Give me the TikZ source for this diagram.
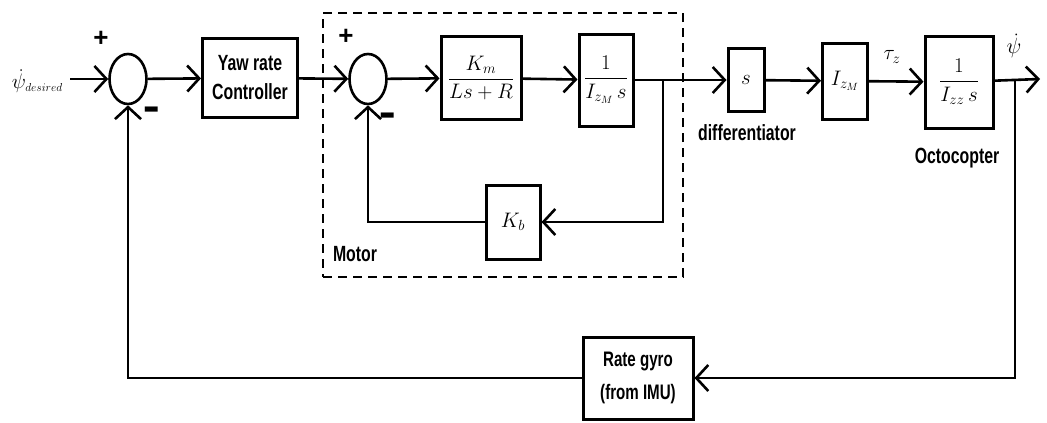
\RequirePackage{fix-cm}
\documentclass[tikz,border=0pt]{standalone}
\usepackage{amsmath}
\usepackage{graphicx}
\usepackage{fontspec}
\setmainfont{Liberation Sans}
\newfontfamily\narrowsf[FakeStretch=0.72]{Liberation Sans}
\usetikzlibrary{arrows.meta,shapes.geometric,positioning}

\begin{document}
\begin{tikzpicture}[
        x=1pt, y=-1pt,
        >={Straight Barb[length=12pt,width=26pt]},
        line width=2.6pt,
        block/.style={rectangle, draw, line width=3pt, inner sep=0pt, align=center, font=\fontsize{21}{23}\selectfont},
        summer/.style={ellipse, draw, minimum width=37pt, minimum height=50pt, inner sep=0pt},
        lbl/.style={font=\narrowsf\bfseries\fontsize{22}{29}\selectfont, inner sep=0pt, align=center},
        sign/.style={font=\bfseries\fontsize{26}{26}\selectfont, inner sep=0pt},
        signal/.style={font=\fontsize{21}{23}\selectfont, inner sep=0pt},
        frame/.style={draw, dashed, line width=1.2pt, dash pattern=on 9pt off 6pt}
    ]
    \useasboundingbox (0,0) rectangle (1047,423);

    % Motor frame
    \node[frame, minimum width=360pt, minimum height=264pt] (motor) at (503,145) {};
    \node[lbl] (motorlbl) at (355,254) {Motor};

    % Outer summing junction and controller
    \coordinate (in) at (70,79);
    \node[signal, left=6pt of in, yshift=-2pt] (psid) {$\dot{\psi}_{\scalebox{0.55}{$desired$}}$};
    \node[summer] (sum1) at (128,79) {};
    \node[sign] (p1) at (101,39) {+};
    \node[sign] (m1) at (152,115) {\scalebox{1}[2]{--}};
    \node[block, lbl, line width=3pt, minimum width=95pt, minimum height=79pt] (ctrl) at (250,78) {Yaw rate\\Controller};

    % Motor blocks
    \node[summer] (sum2) at (368,79) {};
    \node[sign] (p2) at (346,37) {+};
    \node[sign] (m2) at (388,121) {\scalebox{1}[2]{--}};
    \node[block, minimum width=80pt, minimum height=83pt] (km) at (481,78) {$\dfrac{K_m}{Ls+R}$};
    \node[block, minimum width=54pt, minimum height=92pt] (integ) at (606,80) {$\dfrac{1}{I_{z_M}\,s}$};
    \node[block, minimum width=54pt, minimum height=74pt] (kb) at (513,222) {$K_b$};
    \coordinate (br1) at (663,79);

    % Plant side
    \node[block, minimum width=36pt, minimum height=63pt] (diff) at (746,80) {$s$};
    \node[lbl] (difflbl) at (747,133) {differentiator};
    \node[block, minimum width=45pt, minimum height=76pt] (inert) at (845,81) {$I_{z_M}$};
    \node[signal] (tau) at (892,57) {$\tau_z$};
    \node[block, minimum width=68pt, minimum height=92pt] (plant) at (959,82) {$\dfrac{1}{I_{zz}\,s}$};
    \node[lbl] (plantlbl) at (957,158) {Octocopter};
    \coordinate (br2) at (1015,79);
    \coordinate (out) at (1040,79);
    \node[signal, font=\fontsize{22}{24}\selectfont] (psi) at (1014,46) {$\dot{\psi}$};

    % Sensor
    \node[block, lbl, font=\narrowsf\bfseries\fontsize{21}{33}\selectfont, minimum width=110pt, minimum height=82pt] (gyro) at (638,378) {Rate gyro\\(from IMU)};

    % Forward path
    \draw[->] (in) -- (sum1);
    \draw[->] (sum1) -- (ctrl);
    \draw[->] (ctrl) -- (sum2);
    \draw[->] (sum2) -- (km);
    \draw[->] (km) -- (integ);
    \draw[->] (integ) -- (diff);
    \draw[->] (diff) -- (inert);
    \draw[->] (inert) -- (plant);
    \draw[->] (plant) -- (out);

    % Back-EMF loop
    \draw[->] (br1) |- (kb);
    \draw[->] (kb) -| (sum2);

    % Rate feedback loop
    \draw[->] (br2) |- (gyro);
    \draw[->] (gyro) -| (sum1);

\end{tikzpicture}
\end{document}
